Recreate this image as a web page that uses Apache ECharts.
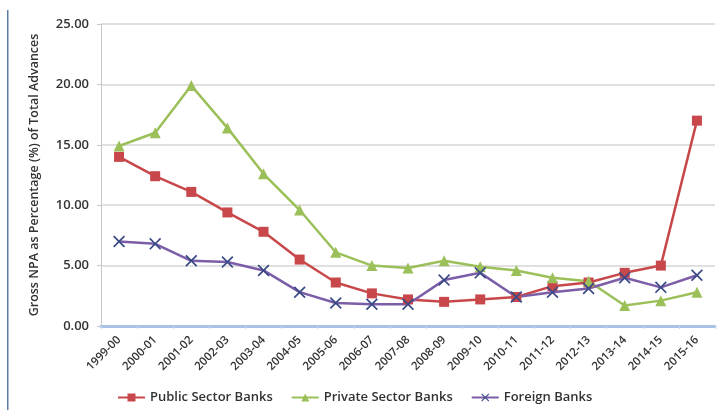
<!DOCTYPE html>
<html>
<head>
<meta charset="utf-8">
<script src="https://cdn.jsdelivr.net/npm/echarts@6/dist/echarts.min.js"></script>
<style>
  html, body { margin: 0; padding: 0; background: #fff; }
  #chart { width: 718px; height: 410px; }
</style>
</head>
<body>
<div id="chart"></div>
<script>
// 年度
const years = ['1999-00', '2000-01', '2001-02', '2002-03', '2003-04', '2004-05', '2005-06', '2006-07',
  '2007-08', '2008-09', '2009-10', '2010-11', '2011-12', '2012-13', '2013-14', '2014-15', '2015-16']

// Gross NPA (%)
const publicBanks = [14.0, 12.4, 11.1, 9.4, 7.8, 5.5, 3.6, 2.7, 2.2, 2.0, 2.2, 2.4, 3.3, 3.6, 4.4, 5.0, 17.0]
const privateBanks = [14.9, 16.0, 19.9, 16.4, 12.6, 9.6, 6.1, 5.0, 4.8, 5.4, 4.9, 4.6, 4.0, 3.7, 1.7, 2.1, 2.8]
const foreignBanks = [7.0, 6.8, 5.4, 5.3, 4.6, 2.8, 1.9, 1.8, 1.8, 3.8, 4.4, 2.4, 2.8, 3.1, 4.0, 3.2, 4.2]

const yTicks = [0, 5, 10, 15, 20, 25]

const chart = echarts.init(document.getElementById('chart'))
const font = 'Open Sans'
const crossSymbol = 'path://M0,1L1,0L5,4L9,0L10,1L6,5L10,9L9,10L5,6L1,10L0,9L4,5Z'

const option = {
  animation: false,
  textStyle: { fontFamily: font },
  color: ['#c8474a', '#9bc059', '#7b5ea7'],
  graphic: [{
    type: 'rect',
    shape: { x: 7, y: 10, width: 1.5, height: 400 },
    style: { fill: '#5a7aa8' }
  }],
  legend: {
    bottom: 1,
    left: 112,
    itemGap: 18,
    itemWidth: 27,
    itemHeight: 10,
    textStyle: { color: '#333', fontSize: 13, fontWeight: 600, fontFamily: font },
    data: ['Public Sector Banks', 'Private Sector Banks', 'Foreign Banks']
  },
  grid: { left: 101, right: 3, top: 24, bottom: 84 },
  xAxis: {
    type: 'category',
    data: years,
    boundaryGap: true,
    axisLine: { lineStyle: { color: '#a8c3e6', width: 3 } },
    axisTick: { show: true, lineStyle: { color: '#c8d6ea' }, length: 3 },
    axisLabel: {
      interval: 0,
      rotate: 45,
      color: '#333',
      fontSize: 11.5,
      fontWeight: 600,
      margin: 12
    }
  },
  yAxis: {
    type: 'value',
    min: 0,
    max: 25,
    interval: 5,
    name: 'Gross NPA as Percentage (%) of Total Advances',
    nameLocation: 'middle',
    nameGap: 60,
    nameTextStyle: { color: '#333', fontSize: 12.5, fontWeight: 600 },
    axisLine: { show: true, lineStyle: { color: '#c8c8c8' } },
    axisTick: { show: true, length: 4, lineStyle: { color: '#c8c8c8' } },
    splitLine: { lineStyle: { color: '#d6d6d6', width: 1.5 } },
    axisLabel: {
      color: '#333',
      fontSize: 13,
      fontWeight: 600,
      margin: 12,
      formatter: v => yTicks.includes(v) ? v.toFixed(2) : ''
    }
  },
  series: [
    {
      name: 'Public Sector Banks',
      type: 'line',
      data: publicBanks,
      symbol: 'rect',
      symbolSize: 10,
      showAllSymbol: true,
      lineStyle: { width: 2.5 }
    },
    {
      name: 'Private Sector Banks',
      type: 'line',
      data: privateBanks,
      symbol: 'triangle',
      symbolSize: 11,
      showAllSymbol: true,
      lineStyle: { width: 2.5 }
    },
    {
      name: 'Foreign Banks',
      type: 'line',
      data: foreignBanks,
      symbol: crossSymbol,
      symbolSize: 12,
      showAllSymbol: true,
      itemStyle: { color: '#3b4a86' },
      lineStyle: { width: 2.5, color: '#7b5ea7' }
    }
  ]
}

chart.setOption(option)
</script>
</body>
</html>
